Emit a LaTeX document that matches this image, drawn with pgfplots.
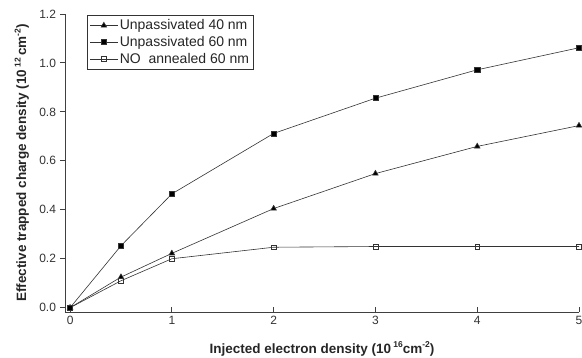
\documentclass[border=0pt]{standalone}
\usepackage{pgfplots}
\pgfplotsset{compat=1.18}
\usepackage{fontspec}
\setmainfont{Liberation Sans}
\newcommand{\sups}[1]{\raisebox{5.5pt}{\fontsize{8.5}{9}\selectfont\bfseries #1}}
\begin{document}
\begin{tikzpicture}
\begin{axis}[
  scale only axis,
  width=514pt, height=298pt,
  xmin=-0.05, xmax=5, ymin=-0.0176, ymax=1.2,
  axis x line*=bottom, axis y line*=left,
  axis line style={black!75, line width=0.9pt},
  xtick={0,1,2,3,4,5},
  ytick={0,0.2,0.4,0.6,0.8,1.0,1.2},
  yticklabel style={/pgf/number format/fixed,/pgf/number format/fixed zerofill,/pgf/number format/precision=1},
  /pgf/number format/assume math mode=true,
  x tick style={black!75, line width=0.9pt}, y tick style={black!75, line width=0.9pt},
  xtick align=inside, ytick align=outside,
  major tick length=5pt,
  tick label style={font=\fontsize{12}{13}\selectfont, text=black!80},
  xticklabel style={yshift=-1pt},
  yticklabel style={xshift=-0.5pt},
  xlabel={\textbf{Injected electron density (10\,\sups{16}cm\sups{-2})}},
  ylabel={\textbf{Effective trapped charge density (10\,\sups{12}\,cm\sups{-2})}},
  label style={font=\fontsize{13.5}{15}\selectfont, text=black!85},
  xlabel style={at={(axis description cs:0.5,-0.124)}, anchor=center},
  ylabel style={at={(axis description cs:-0.084,0.5)}, anchor=center},
  clip=false,
  legend style={at={(0.043,0.997)}, anchor=north west, draw=black!80, line width=0.6pt,
    font=\fontsize{14}{15}\selectfont, inner sep=2.5pt, row sep=1pt, text=black!85},
  legend cell align=left,
  legend image code/.code={\draw[mark repeat=2,mark phase=2] plot coordinates {(0cm,0cm) (0.48cm,0cm) (0.96cm,0cm)};},
]
\coordinate (ll) at (rel axis cs:0,0);
\coordinate (ur) at (rel axis cs:1,1);
\addplot[black!80, line width=0.6pt, mark=triangle*, mark size=3.2pt, mark options={fill=black, solid}]
  coordinates {(0,0) (0.5,0.125) (1,0.222) (2,0.405) (3,0.548) (4,0.659) (5,0.744)};
\addlegendentry{Unpassivated 40 nm}
\addplot[black!80, line width=0.6pt, mark=square*, mark size=2.6pt, mark options={fill=black, solid}]
  coordinates {(0,0) (0.5,0.253) (1,0.465) (2,0.712) (3,0.856) (4,0.972) (5,1.062)};
\addlegendentry{Unpassivated 60 nm}
\addplot[black!80, line width=0.6pt, mark=square, mark size=2.4pt, mark options={fill=white, solid}]
  coordinates {(0,0) (0.5,0.11) (1,0.2) (2,0.247) (3,0.25) (4,0.25) (5,0.25)};
\addlegendentry{NO\ \ annealed 60 nm}
\end{axis}
\pgfresetboundingbox
\path ([shift={(-65pt,-46pt)}]ll) rectangle ([shift={(3pt,14pt)}]ur);
\end{tikzpicture}
\end{document}
